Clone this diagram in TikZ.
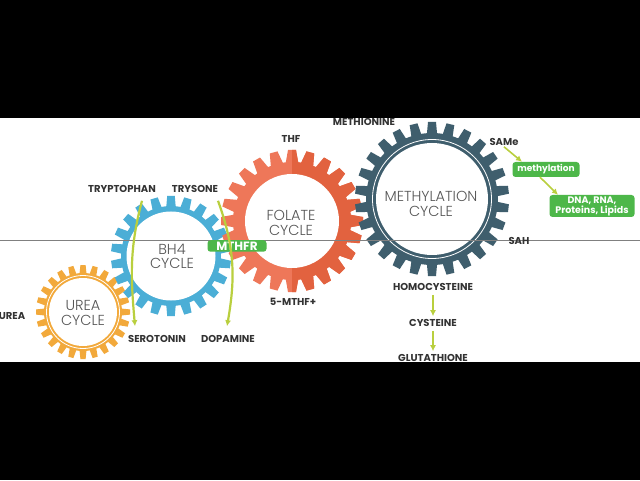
\documentclass[tikz,border=0pt]{standalone}
\usepackage{fontspec}
\setmainfont{Poppins}
\newfontfamily\thinfont{Poppins Light}
\usetikzlibrary{arrows.meta}
\tikzset{>={Latex[width=6pt,length=6pt]}}
\definecolor{ureaorange}{HTML}{F2A93B}
\definecolor{bhblue}{HTML}{4BAED6}
\definecolor{folred}{HTML}{EE7759}
\definecolor{folreddark}{HTML}{E2623F}
\definecolor{methslate}{HTML}{3F5E6D}
\definecolor{lime}{HTML}{B9CF3E}
\definecolor{boxgreen}{HTML}{4DB749}
\definecolor{labelgray}{HTML}{333333}
\definecolor{cyclegray}{HTML}{555555}

% centre, tip radius, root radius, inner radius, teeth, colour, root half width, tip half width, phase
\newcommand{\gearwheel}[9]{%
  \begin{scope}[shift={#1}]
    \fill[#6] (0,0) circle (#3);
    \foreach \t in {1,...,#5}
      \fill[#6, rotate=#9+\t*360/#5] (#3-2,-#7) -- (#2,-#8) -- (#2,#8) -- (#3-2,#7) -- cycle;
    \fill[white] (0,0) circle (#4);
  \end{scope}}

\tikzset{
  lbl/.style={font=\bfseries\fontsize{10}{11}\selectfont, text=labelgray, inner sep=1pt},
  cyc/.style={font=\thinfont\fontsize{14.5}{14.5}\selectfont, text=cyclegray, align=center, inner sep=0pt},
  gbox/.style={fill=boxgreen, rounded corners=3pt, text=white, align=center, inner sep=1pt,
    font=\bfseries\fontsize{9.5}{10}\selectfont},
  curvearrow/.style={->, draw=lime, line width=2.2pt},
  smallarrow/.style={->, draw=lime, line width=1.6pt}
}

\begin{document}
\begin{tikzpicture}[x=1pt, y=1pt]
    \useasboundingbox (0,0) rectangle (640,480);
    \fill[white] (0,118) rectangle (640,362);

    % gears
    \gearwheel{(83,168)}{47}{39}{34}{24}{ureaorange}{3.6}{2.6}{90}
    \draw[white, line width=0.8pt] (83,168) circle (36.5);
    \gearwheel{(171,224)}{60}{50}{44.5}{22}{bhblue}{4.8}{3.8}{90}
    \gearwheel{(292,259)}{71}{59}{47}{24}{folred}{6.5}{4}{90}
    \begin{scope}
      \clip (292,150) rectangle (370,340);
      \gearwheel{(292,259)}{71}{59}{47}{24}{folreddark}{6.5}{4}{90}
    \end{scope}
    \gearwheel{(432,281)}{77}{66}{56}{26}{methslate}{5.2}{4}{90}
    \draw[white, line width=0.8pt] (432,281) circle (59.5);

    \draw[gray, line width=0.6pt] (0,240) -- (640,240);

    % cycle names
    \node[cyc] (UreaC) at (83,167) {UREA\\CYCLE};
    \node[cyc] (BHC) at (172,223.5) {BH4\\CYCLE};
    \node[cyc] (FolC) at (291,257) {FOLATE\\CYCLE};
    \node[cyc] (MethC) at (431,276) {METHYLATION\\CYCLE};

    % labels
    \node[lbl] (Trp) at (122,291) {TRYPTOPHAN};
    \node[lbl] (Try) at (195,291) {TRYSONE};
    \node[lbl] (Ser) at (157,141) {SEROTONIN};
    \node[lbl] (Dop) at (228,141) {DOPAMINE};
    \node[lbl] (Urea) at (12,164) {UREA};
    \node[lbl] (THF) at (291,341) {THF};
    \node[lbl] (MTHF) at (293,178) {5-MTHF+};
    \node[lbl] (Met) at (364,358.5) {METHIONINE};
    \node[lbl] (SAMe) at (504,338) {SAMe};
    \node[lbl] (SAH) at (519,239) {SAH};
    \node[lbl] (Hcy) at (433,193) {HOMOCYSTEINE};
    \node[lbl] (Cys) at (433,157) {CYSTEINE};
    \node[lbl] (GSH) at (433,122) {GLUTATHIONE};

    % green boxes
    \node[gbox, minimum width=59pt, minimum height=11.5pt, font=\bfseries\fontsize{12}{12}\selectfont] (MTHFR) at (237,234) {MTHFR};
    \node[gbox, minimum width=67pt, minimum height=15pt, font=\bfseries\fontsize{9}{10}\selectfont] (Meth) at (546,310.5) {methylation};
    \node[gbox, minimum width=85pt, minimum height=22pt] (DNA) at (592,274) {DNA, RNA,\\Proteins, Lipids};

    % arrows
    \draw[curvearrow] ([shift={(20pt,-7pt)}]Trp.south) to[out=-105, in=95] ([shift={(-22pt,8pt)}]Ser.north);
    \draw[curvearrow] ([shift={(23pt,-7pt)}]Try.south) to[out=-70, in=80] ([shift={(-1pt,8pt)}]Dop.north);
    \draw[smallarrow] (SAMe.south) -- ([xshift=-24pt]Meth.north);
    \draw[smallarrow] ([xshift=-6pt]Meth.south) -- ([xshift=-34pt]DNA.north);
    \draw[smallarrow, shorten <=3pt, shorten >=2pt] (Hcy) -- (Cys);
    \draw[smallarrow, shorten <=3pt, shorten >=2pt] (Cys) -- (GSH);

    % letterbox
    \fill[black] (0,0) rectangle (640,118);
    \fill[black] (0,362) rectangle (640,480);
  \end{tikzpicture}
\end{document}
